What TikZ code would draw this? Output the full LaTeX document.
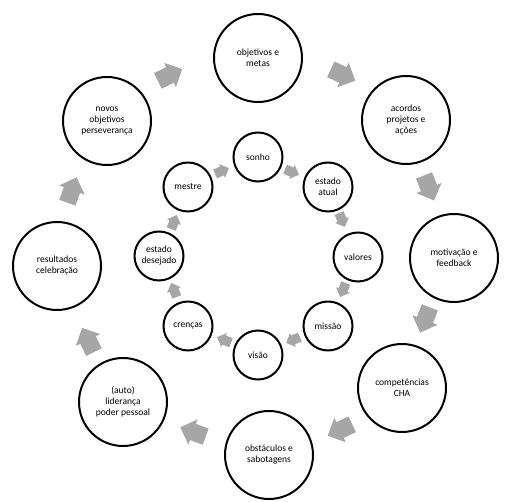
\documentclass[tikz,border=0pt]{standalone}
\usepackage{fontspec}
\setmainfont{Carlito}
\definecolor{arrowgray}{RGB}{166,166,166}
\begin{document}
\begin{tikzpicture}[x=1pt,y=-1pt,
  big/.style={circle,draw=black,line width=2pt,minimum size=88pt,inner sep=0pt,align=center,font=\fontsize{9.5}{11}\selectfont},
  small/.style={circle,draw=black,line width=2pt,minimum size=49pt,inner sep=0pt,align=center,font=\fontsize{9.5}{11}\selectfont},
  blockarrow/.pic={\fill[arrowgray] (-0.5,-0.32) -- (0,-0.32) -- (0,-0.5) -- (0.5,0) -- (0,0.5) -- (0,0.32) -- (-0.5,0.32) -- cycle;}
]
\useasboundingbox[fill=white] (0,0) rectangle (509,502);
% outer ring
\node[big] (o1) at (258,58) {objetivos e\\metas};
\node[big] (o2) at (406,120) {acordos\\projetos e\\ações};
\node[big] (o3) at (454,258) {motivação e\\feedback};
\node[big] (o4) at (402,388) {competências\\CHA};
\node[big] (o5) at (269,455) {obstáculos e\\sabotagens};
\node[big] (o6) at (123,402) {(auto)\\liderança\\poder pessoal};
\node[big] (o7) at (57,266) {resultados\\celebração};
\node[big] (o8) at (107,121) {novos\\objetivos\\perseverança};
% inner ring
\node[small] (i1) at (258,157) {sonho};
\node[small] (i2) at (328,187) {estado\\atual};
\node[small] (i3) at (358,257) {valores};
\node[small] (i4) at (328,326) {missão};
\node[small] (i5) at (258,355) {visão};
\node[small] (i6) at (188,326) {crenças};
\node[small] (i7) at (159,256) {estado\\desejado};
\node[small] (i8) at (188,187) {mestre};
% outer arrows
\pic[rotate=26,scale=27] at (170,75) {blockarrow};
\pic[rotate=-25,scale=27] at (343,75) {blockarrow};
\pic[rotate=-68,scale=27] at (429,188) {blockarrow};
\pic[rotate=-111,scale=27] at (425,320) {blockarrow};
\pic[rotate=-155,scale=27] at (340,430) {blockarrow};
\pic[rotate=160,scale=27] at (193,432) {blockarrow};
\pic[rotate=116,scale=27] at (88,340) {blockarrow};
\pic[rotate=70,scale=27] at (72,190) {blockarrow};
% inner arrows
\pic[rotate=-22,scale=15] at (292,172) {blockarrow};
\pic[rotate=-67,scale=15] at (342,220) {blockarrow};
\pic[rotate=-112,scale=15] at (343,290) {blockarrow};
\pic[rotate=-157,scale=15] at (293,340) {blockarrow};
\pic[rotate=158,scale=15] at (224,340) {blockarrow};
\pic[rotate=112,scale=15] at (174,290) {blockarrow};
\pic[rotate=68,scale=15] at (174,222) {blockarrow};
\pic[rotate=23,scale=15] at (222,171) {blockarrow};
\end{tikzpicture}
\end{document}
